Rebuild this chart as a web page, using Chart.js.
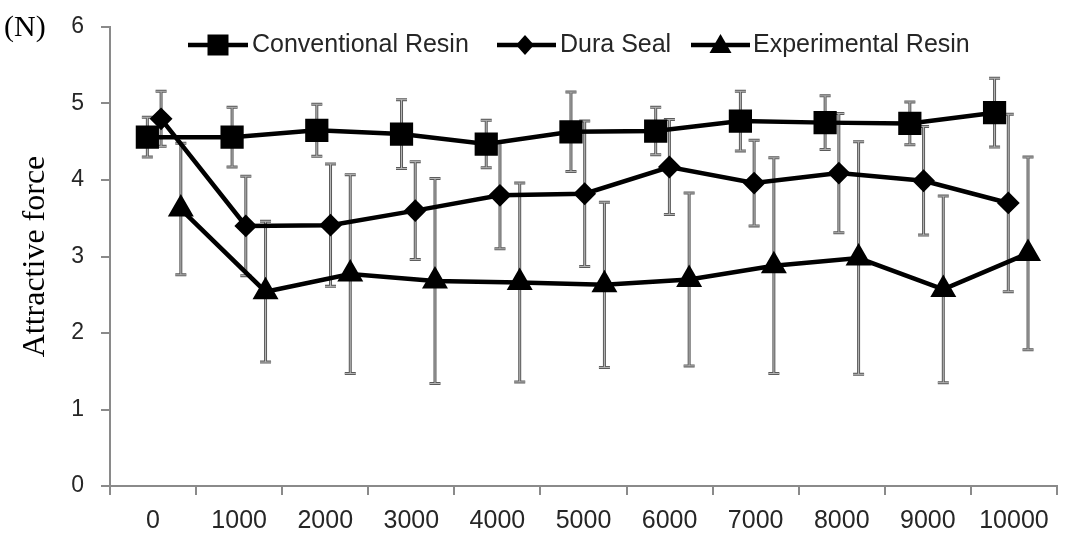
<!DOCTYPE html>
<html>
<head>
<meta charset="utf-8">
<script src="https://cdn.jsdelivr.net/npm/chart.js@4/dist/chart.umd.min.js"></script>
<style>
  html, body { margin: 0; padding: 0; background: #fff; }
  #wrap { width: 1074px; height: 538px; position: relative; }
</style>
</head>
<body>
<div id="wrap"><canvas id="force-chart"></canvas></div>
<script>
// cycles (x categories)
const cycles = [0, 1000, 2000, 3000, 4000, 5000, 6000, 7000, 8000, 9000, 10000];
const cycleLabels = cycles.map(c => String(c));

// attractive force (N), mean and standard deviation
const conventionalMean = [4.56, 4.56, 4.65, 4.60, 4.47, 4.63, 4.64, 4.77, 4.75, 4.74, 4.88];
const conventionalSD   = [0.26, 0.39, 0.34, 0.45, 0.31, 0.52, 0.31, 0.39, 0.35, 0.28, 0.45];
const duraSealMean     = [4.80, 3.40, 3.41, 3.60, 3.80, 3.82, 4.17, 3.96, 4.09, 3.99, 3.70];
const duraSealSD       = [0.36, 0.65, 0.80, 0.64, 0.70, 0.95, 0.62, 0.56, 0.78, 0.71, 1.16];
const experimentalMean = [3.62, 2.54, 2.77, 2.68, 2.66, 2.63, 2.70, 2.88, 2.98, 2.57, 3.04];
const experimentalSD   = [0.86, 0.92, 1.30, 1.34, 1.30, 1.08, 1.13, 1.41, 1.52, 1.22, 1.26];

const yTicks = [0, 1, 2, 3, 4, 5, 6];

// series are drawn side by side inside each category (shift in cycles)
const seriesShift = [0, 162, 395];

const series = [
    { label: 'Conventional Resin', mean: conventionalMean, sd: conventionalSD, style: 'rect', radius: 15 },
    { label: 'Dura Seal', mean: duraSealMean, sd: duraSealSD, style: 'rectRot', radius: 10 },
    { label: 'Experimental Resin', mean: experimentalMean, sd: experimentalSD, style: 'triangle', radius: 13 }
];

const datasets = series.map((s, k) => ({
    label: s.label,
    data: cycles.map((c, i) => ({ x: c + seriesShift[k], y: s.mean[i] })),
    sd: s.sd,
    xAxisID: 'xp',
    yAxisID: 'y',
    borderColor: '#000',
    backgroundColor: '#000',
    borderWidth: 4.5,
    pointStyle: s.style,
    pointRadius: s.radius,
    pointBorderWidth: 2,
    pointBackgroundColor: '#000',
    pointBorderColor: '#000',
    tension: 0
}));

// error bars drawn under the lines
const errorBars = {
    id: 'errorBars',
    beforeDatasetsDraw(chart) {
        const ctx = chart.ctx;
        const xs = chart.scales.xp, ys = chart.scales.y;
        chart.data.datasets.forEach(ds => {
            ds.data.forEach((p, i) => {
                const x = xs.getPixelForValue(p.x);
                const top = ys.getPixelForValue(p.y + ds.sd[i]);
                const bot = ys.getPixelForValue(p.y - ds.sd[i]);
                [['#5a5a5a', 3], ['#b8b8b8', 1]].forEach(([col, w]) => {
                    ctx.save();
                    ctx.strokeStyle = col;
                    ctx.lineWidth = w;
                    ctx.beginPath();
                    ctx.moveTo(x, top); ctx.lineTo(x, bot);
                    ctx.moveTo(x - 5.5, top); ctx.lineTo(x + 5.5, top);
                    ctx.moveTo(x - 5.5, bot); ctx.lineTo(x + 5.5, bot);
                    ctx.stroke();
                    ctx.restore();
                });
            });
        });
    }
};

function drawMarker(ctx, style, x, y) {
    ctx.beginPath();
    if (style === 'rect') {
        ctx.rect(x - 10.5, y - 10.5, 21, 21);
    } else if (style === 'rectRot') {
        ctx.moveTo(x, y - 10); ctx.lineTo(x + 9, y); ctx.lineTo(x, y + 10); ctx.lineTo(x - 9, y);
        ctx.closePath();
    } else {
        ctx.moveTo(x, y - 11); ctx.lineTo(x + 11, y + 8); ctx.lineTo(x - 11, y + 8);
        ctx.closePath();
    }
    ctx.fill();
}

// legend inside the plot, plus the unit label
const extras = {
    id: 'extras',
    afterDraw(chart) {
        const ctx = chart.ctx;
        ctx.save();
        ctx.font = '30px "Liberation Serif"';
        ctx.fillStyle = '#000';
        ctx.textAlign = 'left';
        ctx.textBaseline = 'middle';
        ctx.fillText('(N)', 4, 28);

        const items = [
            { x0: 188, x1: 248, tx: 252 },
            { x0: 497, x1: 556, tx: 560 },
            { x0: 691, x1: 750, tx: 753 }
        ];
        const ly = 45;
        ctx.font = '25px "Liberation Sans"';
        series.forEach((s, k) => {
            const it = items[k];
            ctx.strokeStyle = '#000';
            ctx.fillStyle = '#000';
            ctx.lineWidth = 4.5;
            ctx.beginPath();
            ctx.moveTo(it.x0, ly); ctx.lineTo(it.x1, ly);
            ctx.stroke();
            drawMarker(ctx, s.style, k === 1 ? it.x0 + 28 : (it.x0 + it.x1) / 2, ly);
            ctx.fillStyle = '#262626';
            ctx.fillText(s.label, it.tx, ly);
        });
        ctx.restore();
    }
};

const ctx = document.getElementById('force-chart').getContext('2d');
new Chart(ctx, {
    type: 'line',
    data: { labels: cycleLabels, datasets: datasets },
    options: {
        responsive: true,
        maintainAspectRatio: false,
        animation: false,
        layout: { padding: { top: 27, right: 1, bottom: 0, left: 0 } },
        plugins: { legend: { display: false }, tooltip: { enabled: false } },
        scales: {
            x: {
                type: 'category',
                position: 'bottom',
                offset: true,
                grid: { offset: true, drawOnChartArea: false, drawTicks: true, tickLength: 9, color: '#8a8a8a', lineWidth: 2 },
                border: { display: true, color: '#8a8a8a', width: 2 },
                ticks: { color: '#262626', font: { family: 'Liberation Sans', size: 25 }, padding: 11, maxRotation: 0, autoSkip: false },
                afterFit(scale) { scale.height = 52; }
            },
            xp: {
                type: 'linear',
                display: false,
                min: -441,
                max: 10737
            },
            y: {
                min: yTicks[0],
                max: yTicks[yTicks.length - 1],
                afterBuildTicks(scale) { scale.ticks = yTicks.map(v => ({ value: v })); },
                grid: { drawOnChartArea: false, drawTicks: true, tickLength: 9, color: '#8a8a8a', lineWidth: 2 },
                border: { display: true, color: '#8a8a8a', width: 2 },
                ticks: { color: '#262626', font: { family: 'Liberation Sans', size: 23 }, padding: 17 },
                title: {
                    display: true,
                    text: 'Attractive force',
                    color: '#000',
                    font: { family: 'Liberation Serif', size: 32 },
                    padding: { top: 16, bottom: 0 }
                },
                afterFit(scale) {
                    scale.width = 110;
                    scale.paddingTop = 0;
                    scale.paddingBottom = 0;
                }
            }
        }
    },
    plugins: [errorBars, extras]
});
</script>
</body>
</html>
